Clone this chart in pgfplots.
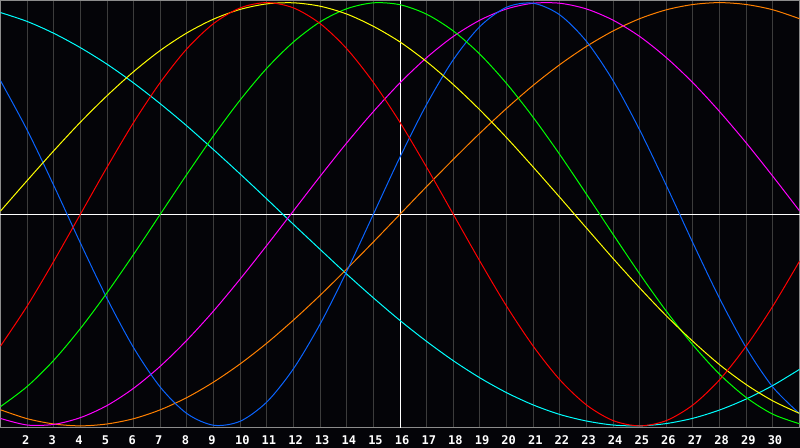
\documentclass[border=0pt]{standalone}
\usepackage{fontspec}
\newfontfamily\labfont{DejaVu Sans Mono}
\usepackage{pgfplots}
\pgfplotsset{compat=1.18}

\definecolor{bg}{RGB}{4,4,8}
\definecolor{gridc}{RGB}{60,60,60}
\definecolor{framec}{RGB}{140,140,140}
\definecolor{cred}{RGB}{255,0,0}
\definecolor{cyel}{RGB}{255,255,0}
\definecolor{cgrn}{RGB}{0,255,0}
\definecolor{ccyan}{RGB}{0,255,255}
\definecolor{cblue}{RGB}{10,100,255}
\definecolor{cmag}{RGB}{255,0,255}
\definecolor{corg}{RGB}{255,128,0}

\begin{document}
\begin{tikzpicture}
\fill[bg] (0,0) rectangle (400pt,224pt);
\begin{axis}[
    at={(0.25pt,10pt)}, anchor=south west,
    scale only axis,
    width=399.5pt, height=213.75pt,
    xmin=1, xmax=31, ymin=-1.01, ymax=1.01,
    axis line style={draw=framec, line width=0.5pt},
    xtick={2,...,30}, ytick=\empty,
    major tick length=0pt,
    xmajorgrids,
    grid style={draw=gridc, line width=0.5pt},
    extra x ticks={16}, extra x tick labels={},
    extra x tick style={grid style={draw=white, line width=0.5pt}},
    extra y ticks={0}, extra y tick labels={},
    extra y tick style={ymajorgrids, grid style={draw=white, line width=0.5pt}},
    /pgf/number format/assume math mode=true,
    xticklabel style={font=\labfont\bfseries\fontsize{6}{6}\selectfont,
        text=white, anchor=north west, inner sep=0pt,
        xshift=-2.75pt, yshift=-3.5pt},
    every axis plot/.append style={line width=0.5pt, smooth, no marks},
]

% cyan
\addplot[ccyan] coordinates {
(1,0.953) (2,0.911) (3,0.855) (4,0.787) (5,0.709) (6,0.620) (7,0.522) (8,0.417)
(9,0.305) (10,0.190) (11,0.072) (12,-0.048) (13,-0.166) (14,-0.283) (15,-0.395)
(16,-0.502) (17,-0.601) (18,-0.692) (19,-0.773) (20,-0.843) (21,-0.901) (22,-0.946)
(23,-0.977) (24,-0.996) (25,-1.000) (26,-0.989) (27,-0.964) (28,-0.925) (29,-0.873)
(30,-0.809) (31,-0.733)
};

% orange
\addplot[corg] coordinates {
(1,-0.924) (2,-0.966) (3,-0.991) (4,-1.000) (5,-0.991) (6,-0.966) (7,-0.924) (8,-0.866)
(9,-0.793) (10,-0.707) (11,-0.609) (12,-0.500) (13,-0.383) (14,-0.259) (15,-0.131)
(16,0) (17,0.131) (18,0.259) (19,0.383) (20,0.500) (21,0.609) (22,0.707) (23,0.793)
(24,0.866) (25,0.924) (26,0.966) (27,0.991) (28,1.000) (29,0.991) (30,0.966) (31,0.924)
};

% magenta
\addplot[cmag] coordinates {
(1,-0.965) (2,-0.996) (3,-0.993) (4,-0.961) (5,-0.904) (6,-0.822) (7,-0.718) (8,-0.595)
(9,-0.457) (10,-0.306) (11,-0.147) (12,0.016) (13,0.179) (14,0.337) (15,0.485)
(16,0.621) (17,0.740) (18,0.840) (19,0.917) (20,0.970) (21,0.997) (22,0.997) (23,0.970)
(24,0.917) (25,0.840) (26,0.740) (27,0.621) (28,0.485) (29,0.337) (30,0.179) (31,0.016)
};

% blue
\addplot[cblue] coordinates {
(1,0.631) (2,0.398) (3,0.136) (4,-0.136) (5,-0.398) (6,-0.631) (7,-0.817) (8,-0.942)
(9,-0.997) (10,-0.978) (11,-0.887) (12,-0.730) (13,-0.519) (14,-0.270) (15,0)
(16,0.270) (17,0.519) (18,0.730) (19,0.887) (20,0.978) (21,0.997) (22,0.942) (23,0.817)
(24,0.631) (25,0.398) (26,0.136) (27,-0.136) (28,-0.398) (29,-0.631) (30,-0.817) (31,-0.942)
};

% green
\addplot[cgrn] coordinates {
(1,-0.909) (2,-0.814) (3,-0.690) (4,-0.540) (5,-0.371) (6,-0.189) (7,0) (8,0.189)
(9,0.371) (10,0.540) (11,0.690) (12,0.814) (13,0.909) (14,0.971) (15,0.999)
(16,0.990) (17,0.945) (18,0.866) (19,0.756) (20,0.618) (21,0.458) (22,0.282) (23,0.095)
(24,-0.095) (25,-0.282) (26,-0.458) (27,-0.618) (28,-0.756) (29,-0.866) (30,-0.945) (31,-0.990)
};

% yellow
\addplot[cyel] coordinates {
(1,0.015) (2,0.159) (3,0.300) (4,0.435) (5,0.560) (6,0.674) (7,0.774) (8,0.857)
(9,0.922) (10,0.968) (11,0.994) (12,0.999) (13,0.983) (14,0.946) (15,0.888)
(16,0.814) (17,0.721) (18,0.613) (19,0.493) (20,0.362) (21,0.223) (22,0.080) (23,-0.065)
(24,-0.209) (25,-0.348) (26,-0.480) (27,-0.601) (28,-0.711) (29,-0.805) (30,-0.882) (31,-0.941)
};

% red
\addplot[cred] coordinates {
(1,-0.623) (2,-0.434) (3,-0.222) (4,0) (5,0.222) (6,0.434) (7,0.623) (8,0.782)
(9,0.901) (10,0.975) (11,1.000) (12,0.975) (13,0.901) (14,0.782) (15,0.623)
(16,0.434) (17,0.222) (18,0) (19,-0.222) (20,-0.434) (21,-0.623) (22,-0.782) (23,-0.901)
(24,-0.975) (25,-1.000) (26,-0.975) (27,-0.901) (28,-0.782) (29,-0.623) (30,-0.434) (31,-0.222)
};

\end{axis}
\pgfresetboundingbox
\useasboundingbox (0,0) rectangle (400pt,224pt);
\end{tikzpicture}
\end{document}
